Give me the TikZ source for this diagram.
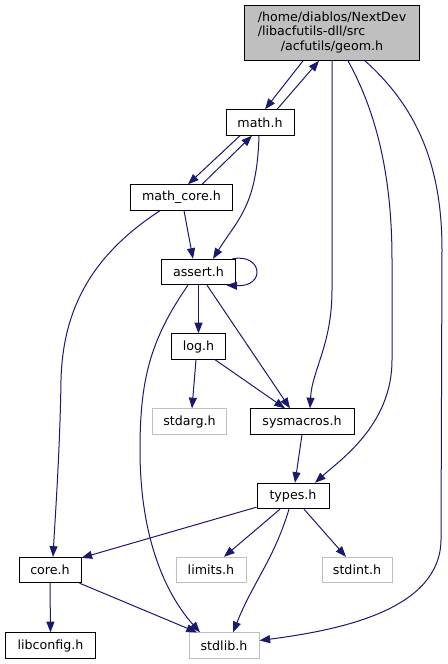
\documentclass[tikz,border=0pt]{standalone}
\usepackage{fontspec}
\setmainfont{DejaVu Sans}
\usepackage{tikz}
\usetikzlibrary{arrows.meta,calc}
\definecolor{edgecol}{HTML}{191970}
\definecolor{greyb}{HTML}{BFBFBF}
\definecolor{mainfill}{HTML}{BFBFBF}

\begin{document}
\begin{tikzpicture}[x=0.75pt,y=-0.75pt,
  font=\fontsize{9.5pt}{11.2pt}\selectfont,
  hdr/.style={draw=black,line width=0.75pt,fill=white,inner sep=0pt,
              minimum height=19pt},
  sys/.style={hdr,draw=greyb},
  inc/.style={draw=edgecol,line width=0.75pt,
              -{Triangle[length=8pt,width=6pt]}},
]
\useasboundingbox (0,0) rectangle (448,664);

% the headers
\node[hdr,fill=mainfill,minimum width=131pt,minimum height=41pt] (geom) at (332,33)
  {\begin{tabular}{@{}l@{}}/home/diablos/NextDev\\/libacfutils-dll/src\\
   \multicolumn{1}{@{}c@{}}{/acfutils/geom.h}\end{tabular}};
\node[hdr,minimum width=51pt] (math) at (260,122.5) {math.h};
\node[hdr,minimum width=77pt] (mcore) at (181.5,197.5) {math\_core.h};
\node[hdr,minimum width=56pt] (assert) at (198.5,272) {assert.h};
\node[hdr,minimum width=41pt] (log) at (198.5,346.5) {log.h};
\node[sys,minimum width=56pt] (stdarg) at (189.5,421.5) {stdarg.h};
\node[hdr,minimum width=78pt] (sysm) at (302,421.5) {sysmacros.h};
\node[hdr,minimum width=54pt] (types) at (293,496) {types.h};
\node[hdr,minimum width=46.5pt] (core) at (50,570) {core.h};
\node[sys,minimum width=52.5pt] (limits) at (211,570) {limits.h};
\node[sys,minimum width=52.5pt] (stdint) at (357,570) {stdint.h};
\node[hdr,minimum width=68pt] (libconfig) at (50.5,645.5) {libconfig.h};
\node[sys,minimum width=52.5pt] (stdlib) at (224,645.5) {stdlib.h};

% includes
\draw[inc] ($(geom.south)+(-29,0)$) -- ($(math.north)+(5,0)$);
\draw[inc] ($(math.north)+(17,0)$) -- ($(geom.south)+(-13,0)$);
\draw[inc] ($(math.south)+(-20,0)$) -- ($(mcore.north)+(6.5,0)$);
\draw[inc] ($(mcore.north)+(20.5,0)$) -- ($(math.south)+(-8,0)$);
\draw[inc] ($(math.south)+(-1,0)$) .. controls +(-2,70) and +(25,-40)
  .. ($(assert.north)+(14.5,0)$);
\draw[inc] ($(mcore.south)+(2.5,0)$) -- ($(assert.north)+(-5.5,0)$);
\draw[inc] ($(mcore.south)+(-21.5,0)$) .. controls (100,250) and (63,300)
  .. (61,380) .. controls (60,450) and (55,520) .. ($(core.north)+(3,0)$);
\draw[inc] ($(assert.north east)+(-4,0)$) .. controls +(30,-6) and +(40,2)
  .. ($(assert.south east)+(-10,0)$);
\draw[inc] (assert.south) -- (log.north);
\draw[inc] ($(assert.south)+(8.5,0)$) -- ($(sysm.north)+(-12,0)$);
\draw[inc] ($(assert.south)+(-10.5,0)$) .. controls (150,340) and (140,380)
  .. (140,450) .. controls (140,560) and (180,610) .. ($(stdlib.north)+(-24,0)$);
\draw[inc] ($(log.south)+(-2.5,0)$) -- ($(stdarg.north)+(2.5,0)$);
\draw[inc] ($(log.south)+(16.5,0)$) -- ($(sysm.north)+(-17,0)$);
\draw[inc] (geom.south) -- (332,290) .. controls (332,345) and (312,370)
  .. ($(sysm.north)+(8,0)$);
\draw[inc] ($(geom.south)+(16,0)$) .. controls (378,115) and (392,180)
  .. (392,260) -- (392,360) .. controls (392,425) and (340,460)
  .. ($(types.north)+(22,0)$);
\draw[inc] ($(geom.south)+(33,0)$) .. controls (420,110) and (442,170)
  .. (442,250) -- (441,540) .. controls (440,610) and (340,630)
  .. ($(stdlib.east)+(0,-5)$);
\draw[inc] (sysm.south) -- ($(types.north)+(2,0)$);
\draw[inc] ($(types.south west)+(0,-2)$) -- ($(core.north east)+(0,1)$);
\draw[inc] ($(types.south)+(-13,0)$) -- ($(limits.north)+(13,0)$);
\draw[inc] ($(types.south)+(11,0)$) -- ($(stdint.north)+(-11,0)$);
\draw[inc] ($(types.south)+(-4,0)$) .. controls +(-15,50) and +(20,-50)
  .. ($(stdlib.north)+(9,0)$);
\draw[inc] (core.south) -- (libconfig.north);
\draw[inc] ($(core.south east)+(-2,0)$) -- ($(stdlib.north)+(-27,0)$);
\end{tikzpicture}
\end{document}
